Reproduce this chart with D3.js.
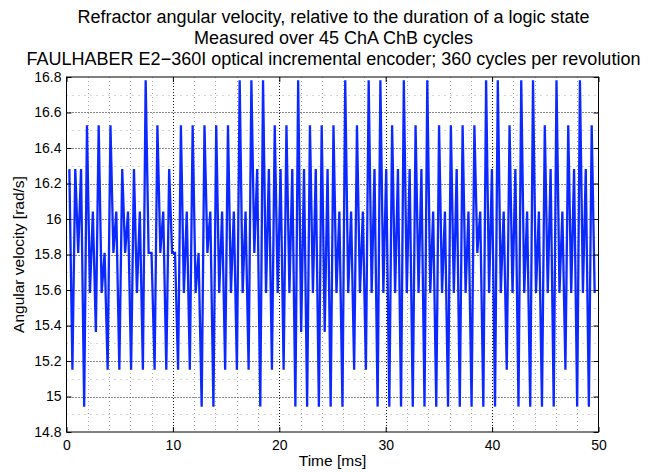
<!DOCTYPE html>
<html>
<head>
<meta charset="utf-8">
<script src="https://cdn.jsdelivr.net/npm/d3@7"></script>
<style>
  html, body { margin: 0; padding: 0; background: #fff; }
  svg { display: block; }
  text { font-family: "Liberation Sans", Arial, Helvetica, sans-serif; fill: #000; }
</style>
</head>
<body>
<svg id="chart" width="649" height="472"></svg>
<script>
// ---- Data ----
const titleLines = [
  "Refractor angular velocity, relative to the duration of a logic state",
  "Measured over 45 ChA ChB cycles",
  "FAULHABER E2\u2212360I optical incremental encoder; 360 cycles per revolution"
];
const xLabel = "Time [ms]";
const yLabel = "Angular velocity [rad/s]";
const xTicks = [0, 10, 20, 30, 40, 50];
const yTicks = [14.8, 15, 15.2, 15.4, 15.6, 15.8, 16, 16.2, 16.4, 16.6, 16.8];
const yTickLabels = ["14.8", "15", "15.2", "15.4", "15.6", "15.8", "16", "16.2", "16.4", "16.6", "16.8"];

// Angular velocity of each logic state [rad/s], 180 states (45 cycles x 4 states)
const angularVelocity = [
  16.281, 15.151, 16.281, 15.809,   16.281, 14.943, 16.528, 15.583,
  16.042, 15.364, 16.528, 15.583,   15.809, 15.151, 16.528, 15.809,
  16.042, 15.151, 16.281, 15.809,   16.042, 15.151, 16.281, 15.583,
  16.042, 15.151, 16.782, 15.809,   15.809, 15.151, 16.528, 15.809,
  16.042, 15.151, 16.281, 15.809,   15.809, 15.151, 16.528, 15.583,
  16.042, 15.151, 16.528, 15.583,   15.809, 14.943, 16.528, 15.809,
  16.042, 14.943, 16.528, 15.583,   16.042, 15.151, 16.528, 15.583,
  16.042, 15.151, 16.782, 15.583,   16.042, 15.151, 16.782, 15.809,
  16.281, 14.943, 16.782, 15.583,   16.281, 15.151, 16.528, 15.583,
  16.281, 15.151, 16.528, 15.583,   16.281, 14.943, 16.782, 15.364,
  16.281, 14.943, 16.528, 15.583,   16.281, 14.943, 16.528, 15.364,
  16.281, 14.943, 16.528, 15.583,   16.042, 14.943, 16.782, 15.583,
  16.042, 15.151, 16.528, 15.583,   16.042, 15.151, 16.782, 15.583,
  16.281, 14.943, 16.782, 15.583,   16.281, 14.943, 16.528, 15.583,
  16.281, 14.943, 16.782, 15.583,   16.281, 14.943, 16.528, 15.583,
  16.281, 14.943, 16.782, 15.583,   16.042, 14.943, 16.528, 15.583,
  16.042, 14.943, 16.528, 15.583,   16.281, 14.943, 16.528, 15.583,
  16.042, 14.943, 16.528, 15.809,   16.042, 14.943, 16.782, 15.583,
  16.281, 14.943, 16.782, 15.583,   16.042, 15.151, 16.528, 15.583,
  16.281, 14.943, 16.782, 15.583,   16.042, 14.943, 16.782, 15.583,
  16.042, 14.943, 16.528, 15.583,   16.281, 14.943, 16.782, 15.583,
  16.042, 15.151, 16.528, 15.583,   16.281, 14.943, 16.782, 15.583,
  16.281, 14.943, 16.528, 15.583
];

// Encoder: 360 cycles/rev, 4 logic states per cycle -> angle per state
const stateAngle = 2 * Math.PI / (360 * 4);
// time stamp (ms) of each state = accumulated state durations
const timeMs = [];
{
  let t = 0;
  angularVelocity.forEach(w => { t += stateAngle / w * 1000; timeMs.push(t); });
}
const points = angularVelocity.map((w, i) => ({ t: timeMs[i], w }));

// ---- Layout ----
const svg = d3.select("#chart");
const L = 66.5, R = 598.5, T = 77, B = 432;

const x = d3.scaleLinear().domain([0, 50]).range([L, R]);
const y = d3.scaleLinear().domain([14.8, 16.8]).range([B, T]);

// grids: minor
const xMinor = d3.range(0, 50.001, 2).filter(v => v % 10 !== 0);
const yMinor = d3.range(14.9, 16.8, 0.2).map(v => +v.toFixed(1));
const g = svg.append("g");

g.selectAll("line.xminor").data(xMinor).join("line")
  .attr("x1", d => Math.round(x(d)) + 0.5).attr("x2", d => Math.round(x(d)) + 0.5)
  .attr("y1", T).attr("y2", B)
  .attr("stroke", "#aaa").attr("stroke-width", 1).attr("stroke-dasharray", "1,3");
g.selectAll("line.yminor").data(yMinor).join("line")
  .attr("y1", d => Math.round(y(d)) + 0.5).attr("y2", d => Math.round(y(d)) + 0.5)
  .attr("x1", L).attr("x2", R)
  .attr("stroke", "#aaa").attr("stroke-width", 1).attr("stroke-dasharray", "1,5");
// major grid
g.selectAll("line.xmajor").data(xTicks.slice(1, -1)).join("line")
  .attr("x1", d => Math.round(x(d)) + 0.5).attr("x2", d => Math.round(x(d)) + 0.5)
  .attr("y1", T).attr("y2", B)
  .attr("stroke", "#111").attr("stroke-width", 1).attr("stroke-dasharray", "1,2");
g.selectAll("line.ymajor").data(yTicks.slice(1, -1)).join("line")
  .attr("y1", d => Math.round(y(d)) + 0.5).attr("y2", d => Math.round(y(d)) + 0.5)
  .attr("x1", L).attr("x2", R)
  .attr("stroke", "#111").attr("stroke-width", 1).attr("stroke-dasharray", "1,2");

// data line
const line = d3.line().x(d => x(d.t)).y(d => y(d.w));
svg.append("path").datum(points)
  .attr("d", line)
  .attr("fill", "none")
  .attr("stroke", "#0a28ff")
  .attr("stroke-width", 2.3)
  .attr("stroke-linejoin", "miter")
  .attr("stroke-miterlimit", 10);

// axes (ticks inward)
const xAxisB = d3.axisBottom(x).tickValues(xTicks).tickSizeInner(-5).tickSizeOuter(0).tickPadding(8).tickFormat(d3.format("d"));
const xAxisT = d3.axisTop(x).tickValues(xTicks).tickSizeInner(-5).tickSizeOuter(0).tickFormat("");
const yAxisL = d3.axisLeft(y).tickValues(yTicks).tickSizeInner(-5).tickSizeOuter(0).tickPadding(5)
  .tickFormat((d, i) => yTickLabels[i]);
const yAxisR = d3.axisRight(y).tickValues(yTicks).tickSizeInner(-5).tickSizeOuter(0).tickFormat("");

function styleAxis(sel) {
  sel.select(".domain").remove();
  sel.selectAll("line").attr("stroke", "#000");
  sel.selectAll("text").style("font-size", "14px").attr("fill", "#000")
    .style("font-family", "'Liberation Sans', Arial, sans-serif");
}
svg.append("g").attr("transform", `translate(0,${B})`).call(xAxisB).call(styleAxis);
svg.append("g").attr("transform", `translate(0,${T})`).call(xAxisT).call(styleAxis);
svg.append("g").attr("transform", `translate(${L},0)`).call(yAxisL).call(styleAxis);
svg.append("g").attr("transform", `translate(${R},0)`).call(yAxisR).call(styleAxis);

// box
svg.append("rect").attr("x", L).attr("y", T).attr("width", R - L).attr("height", B - T)
  .attr("fill", "none").attr("stroke", "#000").attr("stroke-width", 1);

// titles
const cx = (L + R) / 2;
svg.append("g").selectAll("text").data(titleLines).join("text")
  .attr("x", cx + 1).attr("y", (d, i) => 22.5 + i * 21)
  .attr("text-anchor", "middle")
  .style("font-size", "18px")
  .text(d => d);

svg.append("text").attr("x", cx).attr("y", 466).attr("text-anchor", "middle")
  .style("font-size", "15.5px").text(xLabel);
svg.append("text").attr("transform", `translate(24,${(T + B) / 2}) rotate(-90)`)
  .attr("text-anchor", "middle").style("font-size", "15.5px").text(yLabel);
</script>
</body>
</html>
